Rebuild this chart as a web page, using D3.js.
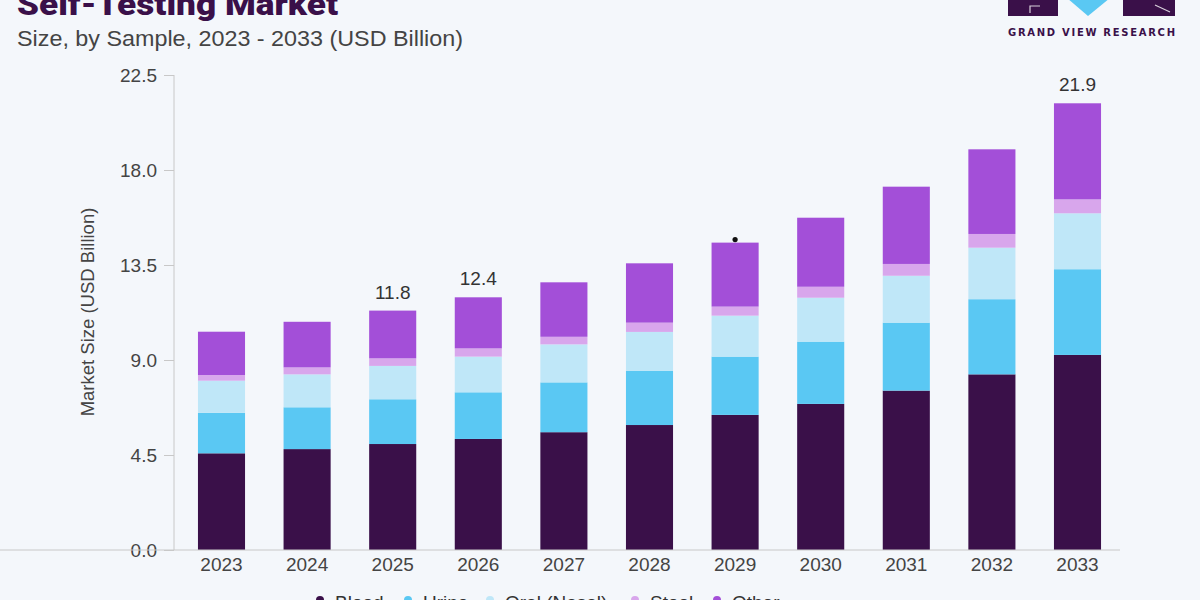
<!DOCTYPE html>
<html>
<head>
<meta charset="utf-8">
<script src="https://cdn.jsdelivr.net/npm/d3@7"></script>
<style>
  html, body { margin: 0; padding: 0; background: #f4f7fb; }
  svg { display: block; }
</style>
</head>
<body>
<svg id="chart" width="1200" height="600"></svg>
<script>
// ---- data ----
const years = ["2023","2024","2025","2026","2027","2028","2029","2030","2031","2032","2033"];
const blood = [4.58, 4.78, 5.02, 5.26, 5.58, 5.92, 6.40, 6.92, 7.55, 8.32, 9.24];
const urine = [1.92, 1.98, 2.12, 2.21, 2.36, 2.56, 2.76, 2.95, 3.22, 3.56, 4.06];
const oral  = [1.52, 1.56, 1.58, 1.69, 1.80, 1.85, 1.94, 2.08, 2.22, 2.44, 2.65];
const stool = [0.27, 0.33, 0.36, 0.39, 0.36, 0.44, 0.43, 0.52, 0.56, 0.65, 0.66];
const other = [2.05, 2.16, 2.26, 2.42, 2.58, 2.81, 3.03, 3.27, 3.66, 4.01, 4.55];
const seriesNames = ["Blood", "Urine", "Oral (Nasal)", "Stool", "Other"];
const yTicks = [0, 4.5, 9.0, 13.5, 18.0, 22.5];
const labelYears = ["2025", "2026", "2033"];
const labelTexts = ["11.8", "12.4", "21.9"];
const dotYear = "2029";

const colors = ["#3a1049", "#5ac8f3", "#bfe7f8", "#d8a6ec", "#a34fd8"];

const rows = years.map((y, i) => ({
  year: y, Blood: blood[i], Urine: urine[i], "Oral (Nasal)": oral[i], Stool: stool[i], Other: other[i]
}));

const svg = d3.select("#chart");
const font = "'Liberation Sans', Arial, sans-serif";

// scales
const y = d3.scaleLinear().domain([0, 22.5]).range([550, 75]);
const x = d3.scaleBand().domain(years).range([178.7, 1120.3]).paddingInner(0.45).paddingOuter(0.225);
const color = d3.scaleOrdinal().domain(seriesNames).range(colors);

// stacked bars
const stack = d3.stack().keys(seriesNames)(rows);
svg.append("g").selectAll("g").data(stack).join("g")
  .attr("fill", d => color(d.key))
  .selectAll("rect").data(d => d).join("rect")
  .attr("x", d => x(d.data.year))
  .attr("width", x.bandwidth())
  .attr("y", d => y(d[1]))
  .attr("height", d => y(d[0]) - y(d[1]));

// y axis
const yAxis = d3.axisLeft(y).tickValues(yTicks).tickFormat(d3.format(".1f")).tickSize(10).tickPadding(7);
const gy = svg.append("g").attr("transform", "translate(174,0)").call(yAxis);
gy.select(".domain").attr("stroke", "#c8c8c8").attr("d", "M0,75V550");
gy.selectAll(".tick line").attr("stroke", "#c8c8c8");
gy.selectAll(".tick text").attr("fill", "#444").style("font-family", font).style("font-size", "19px");

// x axis
const xAxis = d3.axisBottom(x).tickSize(0).tickPadding(8);
const gx = svg.append("g").attr("transform", "translate(0,550)").call(xAxis);
gx.select(".domain").attr("stroke", "#c8c8c8").attr("d", "M-4,0H1120");
gx.selectAll(".tick text").attr("fill", "#444").style("font-family", font).style("font-size", "19px");

// y axis title
svg.append("text")
  .attr("transform", "translate(94,312) rotate(-90)")
  .attr("text-anchor", "middle")
  .attr("fill", "#444")
  .style("font-family", font).style("font-size", "18.5px")
  .text("Market Size (USD Billion)");

// value labels
const totals = {};
rows.forEach(r => { totals[r.year] = seriesNames.reduce((s, k) => s + r[k], 0); });
svg.append("g").selectAll("text").data(labelYears).join("text")
  .attr("x", d => x(d) + x.bandwidth() / 2)
  .attr("y", d => y(totals[d]) - 12)
  .attr("text-anchor", "middle")
  .attr("fill", "#333")
  .style("font-family", font).style("font-size", "19px")
  .text((d, i) => labelTexts[i]);

// stray dot on 2029
svg.append("circle")
  .attr("cx", x(dotYear) + x.bandwidth() / 2)
  .attr("cy", y(totals[dotYear]) - 3)
  .attr("r", 2.6).attr("fill", "#111");

// title & subtitle
svg.append("text").attr("x", 17).attr("y", 15)
  .attr("fill", "#3a1049")
  .style("font-family", "Roboto, 'DejaVu Sans', sans-serif").style("font-weight", 900).style("font-size", "32px")
  .attr("textLength", 321).attr("lengthAdjust", "spacingAndGlyphs")
  .text("Self-Testing Market");
svg.append("text").attr("x", 17).attr("y", 46)
  .attr("fill", "#444")
  .style("font-family", font).style("font-size", "22px")
  .attr("textLength", 446).attr("lengthAdjust", "spacingAndGlyphs")
  .text("Size, by Sample, 2023 - 2033 (USD Billion)");

// logo
const logo = svg.append("g");
logo.append("rect").attr("x", 1008).attr("y", -5).attr("width", 50).attr("height", 21).attr("fill", "#3a1049");
logo.append("path").attr("d", "M1067,-2 L1110,-2 L1088,16 Z").attr("fill", "#5ac8f3");
logo.append("rect").attr("x", 1123).attr("y", -5).attr("width", 52).attr("height", 21).attr("fill", "#3a1049");
logo.append("path").attr("d", "M1030,13 V6 H1040").attr("stroke", "#fff").attr("stroke-width", 1.2).attr("fill", "none").attr("opacity", 0.8);
logo.append("path").attr("d", "M1155,5 L1170,12").attr("stroke", "#fff").attr("stroke-width", 1.2).attr("fill", "none").attr("opacity", 0.8);
logo.append("text").attr("x", 1008).attr("y", 36)
  .attr("fill", "#3a1049")
  .style("font-family", "'DejaVu Sans', sans-serif").style("font-weight", "bold").style("font-size", "10px")
  .attr("textLength", 167).attr("lengthAdjust", "spacing")
  .text("GRAND VIEW RESEARCH");

// legend
const legendX = [320, 408, 490, 635, 717];
const lg = svg.append("g").selectAll("g").data(seriesNames).join("g")
  .attr("transform", (d, i) => `translate(${legendX[i]},0)`);
lg.append("circle").attr("cx", 0).attr("cy", 600).attr("r", 4).attr("fill", d => color(d));
lg.append("text").attr("x", 15).attr("y", 609)
  .attr("fill", "#333")
  .style("font-family", font).style("font-size", "19px")
  .text(d => d);
</script>
</body>
</html>
